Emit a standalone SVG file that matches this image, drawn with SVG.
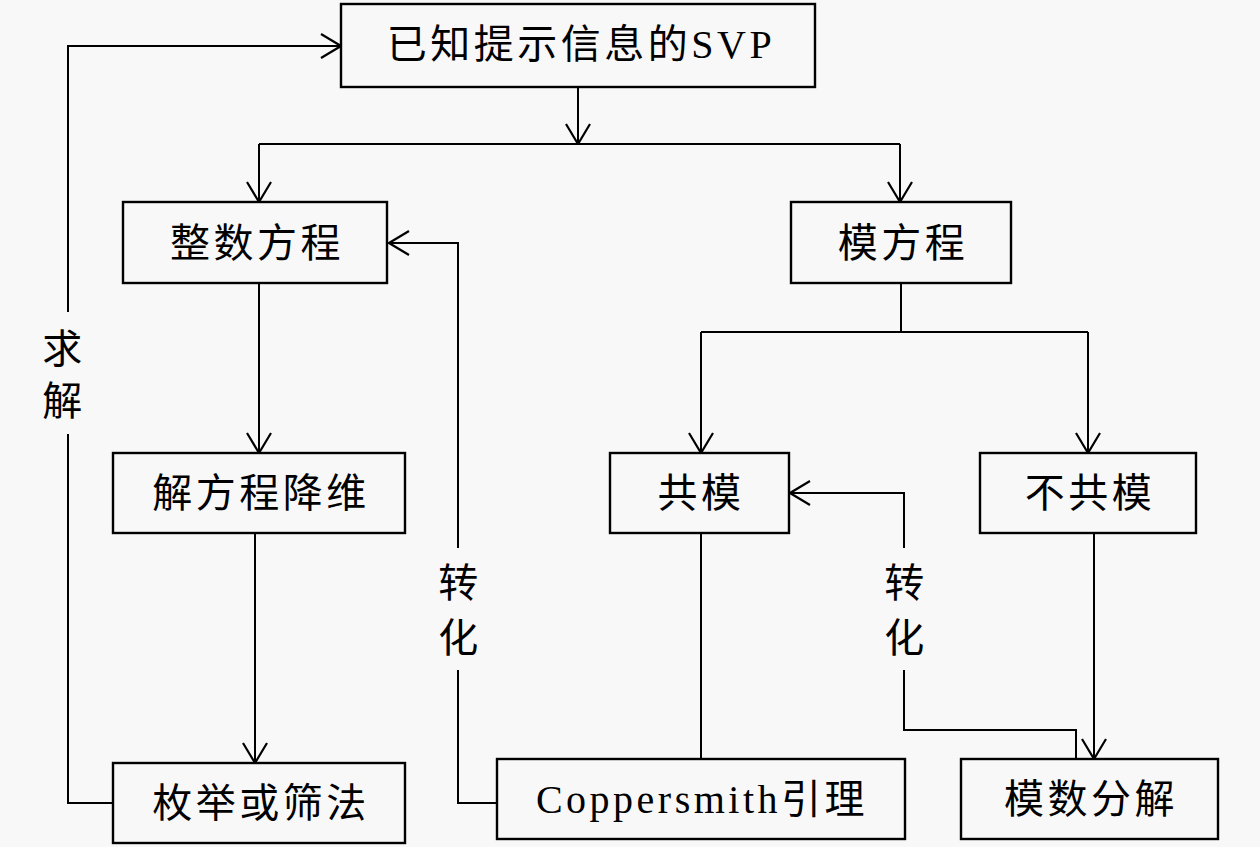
<svg xmlns="http://www.w3.org/2000/svg" width="1260" height="847" viewBox="0 0 1260 847">
<style>
.box{fill:none;stroke:#000;stroke-width:2.4}
.ln{fill:none;stroke:#000;stroke-width:2}
.t{font-family:"Liberation Serif","Noto Sans CJK SC",serif;font-size:40px;letter-spacing:3.5px;text-anchor:middle;fill:#000}
</style>
<defs>
<marker id="a" viewBox="0 0 22 26" refX="21" refY="13" markerWidth="22" markerHeight="26" markerUnits="userSpaceOnUse" orient="auto">
<path d="M1,1 L21,13 L1,25" fill="none" stroke="#000" stroke-width="2.2"/>
</marker>
</defs>
<rect width="1260" height="847" fill="#f8f8f8"/>
<g id="n_svp"><rect class="box" x="341" y="4" width="474" height="83"/><text class="t" x="581" y="58">已知提示信息的SVP</text></g>
<g id="n_int"><rect class="box" x="123" y="202" width="264" height="81"/><text class="t" x="257" y="257">整数方程</text></g>
<g id="n_mod"><rect class="box" x="791" y="202" width="220" height="81"/><text class="t" x="903" y="257">模方程</text></g>
<g id="n_red"><rect class="box" x="113" y="453" width="292" height="80"/><text class="t" x="261" y="507">解方程降维</text></g>
<g id="n_enum"><rect class="box" x="113" y="763" width="292" height="80"/><text class="t" x="261" y="817">枚举或筛法</text></g>
<g id="n_com"><rect class="box" x="610" y="453" width="179" height="80"/><text class="t" x="701" y="507">共模</text></g>
<g id="n_ncom"><rect class="box" x="980" y="453" width="216" height="80"/><text class="t" x="1090" y="507">不共模</text></g>
<g id="n_cop"><rect class="box" x="497" y="759" width="408" height="80"/><text class="t" x="702" y="813">Coppersmith引理</text></g>
<g id="n_fac"><rect class="box" x="961" y="759" width="257" height="80"/><text class="t" x="1091" y="813">模数分解</text></g>
<g id="connectors">
<path class="ln" d="M113,803 H68 V434"/>
<path class="ln" d="M68,312 V46 H341" marker-end="url(#a)"/>
<text class="t" x="64" y="363">求</text>
<text class="t" x="64" y="415">解</text>
<path class="ln" d="M578,87 V144" marker-end="url(#a)"/>
<path class="ln" d="M259,144 H900"/>
<path class="ln" d="M259,144 V202" marker-end="url(#a)"/>
<path class="ln" d="M900,144 V202" marker-end="url(#a)"/>
<path class="ln" d="M259,283 V453" marker-end="url(#a)"/>
<path class="ln" d="M255,533 V763" marker-end="url(#a)"/>
<path class="ln" d="M901,283 V332"/>
<path class="ln" d="M701,332 H1088"/>
<path class="ln" d="M701,332 V453" marker-end="url(#a)"/>
<path class="ln" d="M1088,332 V453" marker-end="url(#a)"/>
<path class="ln" d="M701,533 V759"/>
<path class="ln" d="M1094,533 V759" marker-end="url(#a)"/>
<path class="ln" d="M497,803 H458 V670"/>
<path class="ln" d="M458,548 V243 H389" marker-end="url(#a)"/>
<text class="t" x="460" y="597">转</text>
<text class="t" x="460" y="652">化</text>
<path class="ln" d="M1076,759 V730 H904 V670"/>
<path class="ln" d="M904,548 V493 H790" marker-end="url(#a)"/>
<text class="t" x="906" y="597">转</text>
<text class="t" x="906" y="652">化</text>
</g>
</svg>
